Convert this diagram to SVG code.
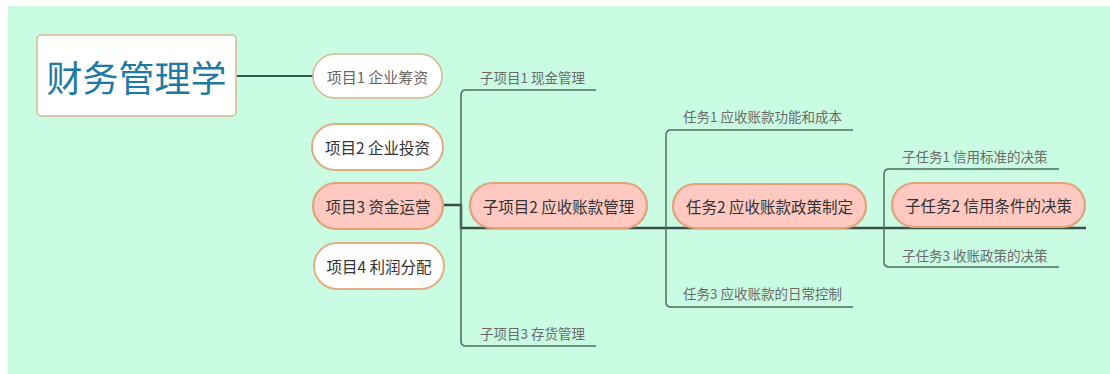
<svg xmlns="http://www.w3.org/2000/svg" width="1110" height="374" viewBox="0 0 1110 374">
<style>
text{font-family:"Noto Sans CJK SC","Liberation Sans",sans-serif;dominant-baseline:central}
.node{fill:#ffffff;stroke:#e2ad84;stroke-width:2}
.hl{fill:#ffc9c1;stroke:#e2a27a;stroke-width:2.2}
.t{font-size:15.5px;fill:#333333;text-anchor:middle}
.lab{font-size:13.5px;fill:#6b6b6b}
.br{fill:none;stroke:#4c6d62;stroke-width:1.5}
.main{fill:none;stroke:#3b4d47;stroke-width:2.5}
</style>
<rect x="0" y="0" width="1110" height="374" fill="#ffffff"/>
<rect x="8" y="6" width="1102" height="368" fill="#c9fce3"/>
<g id="connectors">
<line x1="237" y1="76" x2="313" y2="76" stroke="#2f5a4c" stroke-width="2.2"/>
<path class="main" d="M443 205 H461 V228 H1086"/>
<path class="br" d="M596 90 H466 Q461 90 461 95 V341 Q461 346 466 346 H596"/>
<path class="br" d="M853 130 H671 Q666 130 666 135 V302 Q666 307 671 307 H853"/>
<path class="br" d="M1059 169 H889 Q884 169 884 174 V262 Q884 267 889 267 H1059"/>
</g>
<g id="root">
<rect x="37" y="35" width="199" height="81" rx="4" fill="#ffffff" stroke="#d8b890" stroke-width="1.5"/>
<text x="136.5" y="76" font-size="36" fill="#1f7aa3" text-anchor="middle">财务管理学</text>
</g>
<g id="p1">
<rect x="313" y="54" width="129" height="44" rx="22" fill="#ffffff" stroke="#d8b890" stroke-width="1.5"/>
<text x="377.5" y="76" class="t" style="fill:#666666;font-size:15px">项目1 企业筹资</text>
</g>
<g id="p2">
<rect x="312" y="124" width="131" height="46" rx="23" class="node"/>
<text x="377.5" y="147" class="t">项目2 企业投资</text>
</g>
<g id="p3">
<rect x="313" y="183" width="130" height="46" rx="23" class="hl"/>
<text x="378" y="206" class="t">项目3 资金运营</text>
</g>
<g id="p4">
<rect x="314" y="243" width="130" height="46" rx="23" class="node"/>
<text x="379" y="266" class="t">项目4 利润分配</text>
</g>
<g id="s1">
<text x="480" y="77" class="lab">子项目1 现金管理</text>
</g>
<g id="s2">
<rect x="470" y="183" width="177" height="45" rx="22.5" class="hl"/>
<text x="558.5" y="205.5" class="t">子项目2 应收账款管理</text>
</g>
<g id="s3">
<text x="480" y="333" class="lab">子项目3 存货管理</text>
</g>
<g id="r1">
<text x="683" y="116" class="lab">任务1 应收账款功能和成本</text>
</g>
<g id="r2">
<rect x="673" y="184" width="193" height="44" rx="22" class="hl"/>
<text x="769.5" y="206" class="t">任务2 应收账款政策制定</text>
</g>
<g id="r3">
<text x="683" y="293" class="lab">任务3 应收账款的日常控制</text>
</g>
<g id="k1">
<text x="902" y="156" class="lab">子任务1 信用标准的决策</text>
</g>
<g id="k2">
<rect x="892" y="183" width="193" height="44" rx="22" class="hl"/>
<text x="988.5" y="205" class="t">子任务2 信用条件的决策</text>
</g>
<g id="k3">
<text x="902" y="255" class="lab">子任务3 收账政策的决策</text>
</g>
</svg>
